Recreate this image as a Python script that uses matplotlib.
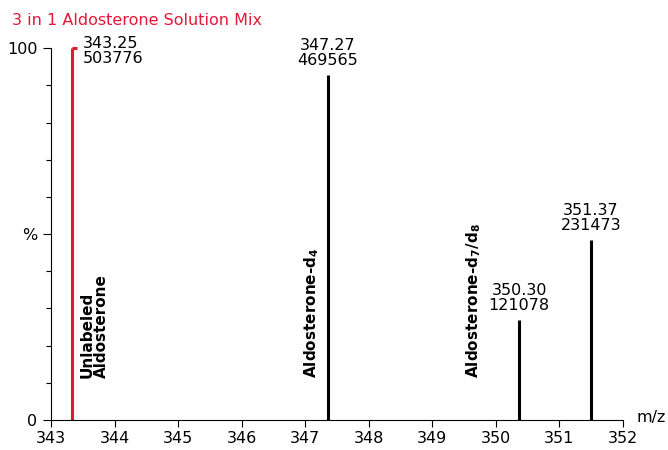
import matplotlib
matplotlib.use('Agg')
import matplotlib.pyplot as plt

# peak data
peak_mz = [343.33, 347.36, 350.37, 351.50]
peak_pct = [100, 92.8, 26.9, 48.4]
peak_labels = ["343.25\n503776", "347.27\n469565", "350.30\n121078", "351.37\n231473"]
peak_colors = ["#e31837", "black", "black", "black"]

compound_x = [343.68, 347.11, 349.66]
compound_names = ["Unlabeled\nAldosterone", r"Aldosterone-d$_\mathbf{4}$",
                  r"Aldosterone-d$_\mathbf{7}$/d$_\mathbf{8}$"]

x_ticks = list(range(343, 353))
title = "3 in 1 Aldosterone Solution Mix"
red = "#e31837"

fig = plt.figure(figsize=(6.68, 4.5), dpi=100)
ax = fig.add_axes([0.0766, 0.0667, 0.8555, 0.826])

for mz, pct, col in zip(peak_mz, peak_pct, peak_colors):
    ax.plot([mz, mz], [0, pct], color=col, lw=2.2, solid_capstyle='butt', clip_on=False)

# little cap on the base peak
ax.plot([peak_mz[0], peak_mz[0] + 0.07], [100, 100], color=red, lw=2.2,
        solid_capstyle='butt', clip_on=False)

# peak annotations
ax.annotate(peak_labels[0], (peak_mz[0], peak_pct[0]), xytext=(8, 9),
            textcoords='offset points', ha='left', va='top', fontsize=11.5,
            linespacing=1.0, annotation_clip=False)
for mz, pct, lab in zip(peak_mz[1:], peak_pct[1:], peak_labels[1:]):
    ax.annotate(lab, (mz, pct), xytext=(0, 5), textcoords='offset points',
                ha='center', va='bottom', fontsize=11.5, linespacing=1.0,
                annotation_clip=False)

for x, name in zip(compound_x, compound_names):
    ax.text(x, 11.3, name, rotation=90, ha='center', va='bottom', fontsize=11,
            fontweight='bold', linespacing=0.95, multialignment='left')

ax.set_xlim(343, 352)
ax.set_ylim(0, 100)
ax.set_xticks(x_ticks)
ax.set_xticklabels([str(t) for t in x_ticks], fontsize=11.5)
ax.set_yticks([0, 50, 100])
ax.set_yticklabels(["0", "%", "100"], fontsize=11.5)
ax.set_yticks(range(10, 100, 10), minor=True)
ax.tick_params(axis='y', which='major', length=6, width=0.8, direction='out', pad=4)
ax.tick_params(axis='y', which='minor', length=3.5, width=0.8, direction='out')
ax.tick_params(axis='x', which='major', length=5, width=0.8, direction='out', pad=3)

for side in ['top', 'right']:
    ax.spines[side].set_visible(False)
for side in ['left', 'bottom']:
    ax.spines[side].set_linewidth(0.8)

ax.annotate("m/z", (1.0, 0.0), xycoords='axes fraction', xytext=(10, 2),
            textcoords='offset points', ha='left', va='center', fontsize=11.5)
fig.text(0.018, 0.955, title, color=red, fontsize=11.5, ha='left', va='center')

fig.savefig("out.png", dpi=100)
